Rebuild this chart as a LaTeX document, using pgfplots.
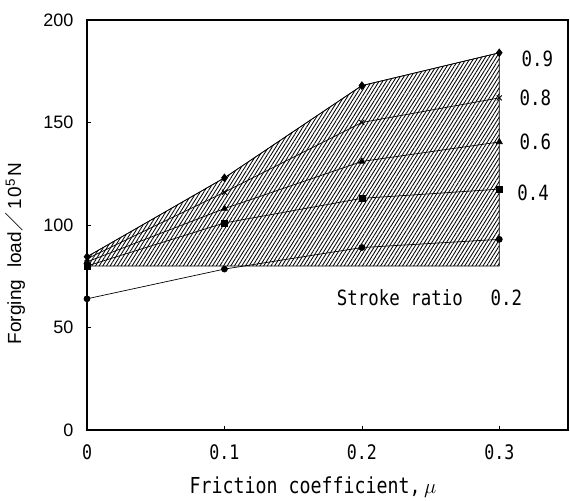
\documentclass[border=0pt]{standalone}
\usepackage{fontspec}
\setmainfont{Liberation Sans}
\newfontfamily\mono[FakeStretch=0.83]{DejaVu Sans Mono}
\newfontfamily\cjk{Noto Sans CJK JP}
\usepackage{pgfplots}
\pgfplotsset{compat=1.18}
\usetikzlibrary{patterns.meta}
\begin{document}
\begin{tikzpicture}
\begin{axis}[
  scale only axis, width=481pt, height=410pt,
  xmin=0, xmax=0.35, ymin=0, ymax=200,
  xtick={0,0.1,0.2,0.3}, xticklabels={0,0.1,0.2,0.3},
  ytick={0,50,100,150,200},
  tick align=inside, major tick length=4pt,
  xtick pos=bottom, ytick pos=left,
  axis line style={line width=1.6pt},
  tick style={black, line width=0.6pt},
  /pgf/number format/assume math mode=true,
  xticklabel style={font=\mono\fontsize{20}{20}\selectfont, yshift=-11pt},
  yticklabel style={font=\fontsize{18}{18}\selectfont, xshift=-10pt},
  xlabel={{\mono Friction coefficient,}\,$\mu$},
  xlabel style={at={(axis description cs:0.47,-0.139)}, anchor=center, font=\fontsize{22}{22}\selectfont},
  ylabel={Forging\hspace{12pt}load{\cjk ／}\hspace{3pt}1\kern1.5pt0\textsuperscript{\kern1pt 5}\kern1.5pt N},
  ylabel style={at={(axis description cs:-0.1497,0.43)}, anchor=center, font=\fontsize{19}{19}\selectfont},
  clip=false,
]
\addplot[black, line width=0.6pt, pattern={Lines[angle=58,distance=3.1pt,line width=0.85pt]}]
  coordinates {(0,80) (0,84.5) (0.1,123) (0.2,168) (0.3,184) (0.3,80)} -- cycle;
\addplot[black, line width=0.7pt, mark=diamond*, mark size=3.8pt] coordinates {(0,84.5) (0.1,123) (0.2,168) (0.3,184)};
\addplot[black, line width=0.7pt, mark=x, mark size=3.5pt, mark options={line width=0.9pt}] coordinates {(0,83.5) (0.1,116) (0.2,150) (0.3,162)};
\addplot[black, line width=0.7pt, mark=triangle*, mark size=3.5pt] coordinates {(0,82) (0.1,108) (0.2,131) (0.3,140.5)};
\addplot[black, line width=0.7pt, mark=square*, mark size=3pt] coordinates {(0,80) (0.1,101) (0.2,113) (0.3,117.5)};
\addplot[black, line width=0.7pt, mark=*, mark size=3pt] coordinates {(0,64) (0.1,78.5) (0.2,89) (0.3,93)};
\begin{scope}[every node/.style={inner sep=0pt, anchor=west, font=\mono\fontsize{21}{21}\selectfont}]
\node at (axis cs:0.3161,181) {0.9};
\node at (axis cs:0.3147,162) {0.8};
\node at (axis cs:0.3147,140.5) {0.6};
\node at (axis cs:0.313,115.6) {0.4};
\node at (axis cs:0.1817,64.4) {Stroke ratio};
\node at (axis cs:0.2936,64.4) {0.2};
\end{scope}
\end{axis}
\path[use as bounding box] (current axis.south west) ++(-87pt,-69pt) rectangle ++(570pt,499pt);
\end{tikzpicture}
\end{document}
